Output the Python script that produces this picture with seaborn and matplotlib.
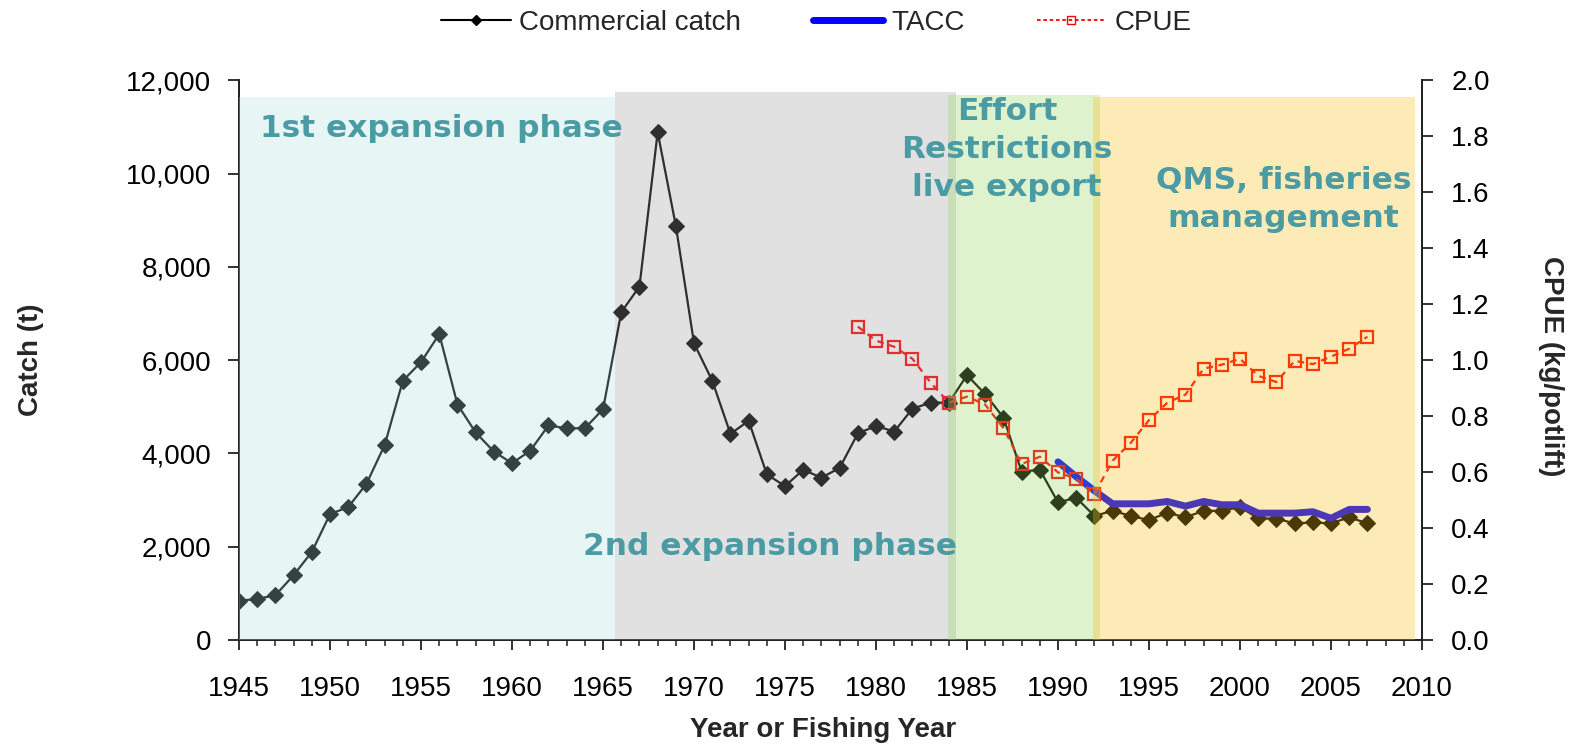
import matplotlib
matplotlib.use('Agg')
from matplotlib import pyplot as plt
from matplotlib.lines import Line2D
from matplotlib.ticker import MultipleLocator, FuncFormatter
import seaborn as sns
import pandas as pd

####### DATA #######
years = list(range(1945, 2008))
catch = [840, 880, 960, 1390, 1890, 2700, 2850, 3350, 4180, 5560,
         5960, 6560, 5050, 4450, 4040, 3790, 4060, 4600, 4540, 4540,
         4950, 7030, 7580, 10890, 8880, 6360, 5560, 4420, 4700, 3550,
         3300, 3650, 3480, 3690, 4430, 4590, 4470, 4960, 5090, 5090,
         5680, 5270, 4770, 3610, 3650, 2950, 3050, 2660, 2770, 2660,
         2570, 2730, 2630, 2770, 2770, 2850, 2610, 2600, 2500, 2520,
         2500, 2630, 2500]

tacc_years = list(range(1990, 2008))
tacc = [3820, 3500, 3200, 2920, 2920, 2920, 2970, 2870, 2970, 2900,
        2900, 2720, 2720, 2720, 2750, 2610, 2800, 2800]

cpue_years = list(range(1979, 2008))
cpue = [1.120, 1.070, 1.048, 1.005, 0.920, 0.848, 0.870, 0.841, 0.757, 0.629,
        0.655, 0.599, 0.576, 0.522, 0.641, 0.705, 0.786, 0.848, 0.877, 0.970,
        0.984, 1.005, 0.944, 0.922, 0.998, 0.986, 1.013, 1.041, 1.084]

phase_labels = ['1st expansion phase', '2nd expansion phase',
                'Effort\nRestrictions\nlive export', 'QMS, fisheries\nmanagement']
phase_start = [1945, 1965.66, 1983.97, 1991.94]
phase_end = [1965.66, 1984.4, 1992.3, 2009.6]
phase_top = [11650, 11750, 11680, 11650]
phase_text_x = [1956.1, 1974.2, 1987.2, 2002.4]
phase_text_y = [10960, 2000, 10515, 9450]
##### END DATA #####

PHASE_COLS = ['#b2dede', '#9e9e9e', '#98d45f', '#f8bc12']
TEXT_COL = '#4a9ba3'

sns.set_style('ticks')
plt.rcParams['font.family'] = ['Liberation Sans', 'DejaVu Sans']

catch_df = pd.DataFrame({'year': years, 'catch': catch})
tacc_df = pd.DataFrame({'year': tacc_years, 'tacc': tacc})
cpue_df = pd.DataFrame({'year': cpue_years, 'cpue': cpue})

fig = plt.figure(figsize=(15.76, 7.45), dpi=100)
ax = fig.add_axes([0.1517, 0.141, 0.7506, 0.751])
ax2 = ax.twinx()

sns.lineplot(data=catch_df, x='year', y='catch', ax=ax, color='black', lw=1.6,
             marker='D', markersize=8, markeredgecolor='black', legend=False, zorder=2)
sns.lineplot(data=tacc_df, x='year', y='tacc', ax=ax, color='#0000ff', lw=5,
             legend=False, zorder=3, solid_capstyle='round')
sns.lineplot(data=cpue_df, x='year', y='cpue', ax=ax2, color='#ff0000', lw=1.6,
             linestyle=(0, (3, 2.5)), marker='s', markersize=8, markerfacecolor='none',
             markeredgecolor='#ff0000', markeredgewidth=1.6, legend=False, zorder=2)

# shaded phases go on the top axes so they tint every line underneath
for x0, x1, top, c in zip(phase_start, phase_end, phase_top, PHASE_COLS):
    ax2.axvspan(x0, x1, ymin=0, ymax=top / 12000, color=c, alpha=0.3, lw=0, zorder=5)

for s, tx, ty in zip(phase_labels, phase_text_x, phase_text_y):
    ax2.text(tx, ty, s, transform=ax.transData, ha='center', va='center',
             fontsize=22.5, fontweight='bold', color=TEXT_COL, family='DejaVu Sans',
             linespacing=1.39, zorder=10)

ax.set_xlim(1945, 2010)
ax.set_ylim(0, 12000)
ax2.set_ylim(0, 2.0)
ax.xaxis.set_major_locator(MultipleLocator(5))
ax.xaxis.set_minor_locator(MultipleLocator(1))
ax.yaxis.set_major_locator(MultipleLocator(2000))
ax2.yaxis.set_major_locator(MultipleLocator(0.2))
ax.yaxis.set_major_formatter(FuncFormatter(lambda v, p: f'{int(v):,}'))
ax2.yaxis.set_major_formatter(FuncFormatter(lambda v, p: f'{v:.1f}'))

for a in (ax, ax2):
    a.spines['top'].set_visible(False)
    for sp in a.spines.values():
        sp.set_linewidth(1.3)
        sp.set_color('#222222')
ax.tick_params(axis='x', which='major', length=7, width=1.3, pad=19, labelsize=20, colors='#222222')
ax.tick_params(axis='x', which='minor', length=4.5, width=1.1, colors='#222222')
ax.tick_params(axis='y', length=8, width=1.3, pad=12, labelsize=20, colors='#222222')
ax2.tick_params(axis='y', length=8, width=1.3, pad=13, labelsize=20, colors='#222222')
for lab in ax.get_xticklabels() + ax.get_yticklabels() + ax2.get_yticklabels():
    lab.set_color('black')

ax.set_xlabel('Year or Fishing Year', fontsize=20, fontweight='bold')
ax.set_ylabel('Catch (t)', fontsize=20, fontweight='bold')
ax2.set_ylabel('CPUE (kg/potlift)', fontsize=20, fontweight='bold', rotation=270)
ax.xaxis.set_label_coords(0.494, -0.138)
ax.yaxis.set_label_coords(-0.165, 0.5)
ax2.yaxis.set_label_coords(1.120, 0.49)

handles = [Line2D([0], [0], color='black', lw=1.5, marker='D', markersize=5),
           Line2D([0], [0], color='#0000ff', lw=5),
           Line2D([0], [0], color='#ff0000', lw=1.3, linestyle=(0, (2, 1.5)), marker='s',
                  markersize=6, markerfacecolor='none', markeredgecolor='#ff0000')]
fig.legend(handles, ['Commercial catch', 'TACC', 'CPUE'], loc='upper center',
           bbox_to_anchor=(0.518, 1.02), ncol=3, frameon=False, fontsize=20,
           handlelength=2.5, handletextpad=0.3, columnspacing=2.6)

fig.savefig('out.png', dpi=100)
